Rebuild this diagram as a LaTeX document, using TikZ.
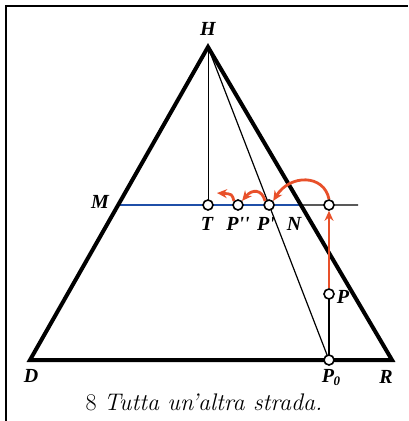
\documentclass[tikz,border=0pt]{standalone}
\usepackage{fontspec}
\newfontfamily\labfont{Liberation Serif}
\usetikzlibrary{arrows.meta,calc,intersections}
\definecolor{redarr}{HTML}{E8502A}
\definecolor{blueln}{HTML}{1F4FA8}
\tikzset{
  thickside/.style={line width=4pt, line join=miter},
  thinln/.style={line width=1.2pt},
  dotpt/.style={circle, draw, fill=white, line width=1.6pt, minimum size=10pt, inner sep=0pt},
  lab/.style={font=\labfont\bfseries\itshape\fontsize{20}{20}\selectfont, inner sep=1pt},
  redarrow/.style={draw=redarr, line width=2.8pt, -{Stealth[length=10pt,width=9pt]}},
}
\begin{document}
\begin{tikzpicture}[x=1pt,y=-1pt]
\useasboundingbox (0,0) rectangle (408,421);
% frame
\draw[line width=2.6pt] (6,421) -- (6,6) -- (408,6);
% key coordinates
\coordinate (H) at (208,47);
\coordinate (D) at (30,360);
\coordinate (R) at (392,360);
\coordinate (P0c) at (329,360);
\coordinate (Lend) at (358,205);
\coordinate (M) at ($(D)!{(360-205)/313}!(H)$);
\coordinate (N) at ($(R)!{(360-205)/313}!(H)$);
\coordinate (Pp) at ($(P0c)!{(360-205)/313}!(H)$);
\coordinate (Tc) at (208,205);
\coordinate (Ppp) at (238,205);
\coordinate (Xc) at (329,205);
\coordinate (Pc) at (329,294);
% thin lines
\draw[line width=1pt] (H) -- (Tc);
\draw[thinln] (H) -- (P0c);
\draw[thinln] (M) -- (Lend);
\draw[thinln] (Pc) -- (P0c);
\draw[blueln, line width=2.8pt] (M) -- (N);
% triangle
\draw[thickside] (D) -- (H) -- (R) -- cycle;
% points
\node[dotpt] (T) at (Tc) {};
\node[dotpt] (P2) at (Ppp) {};
\node[dotpt] (P1) at (Pp) {};
\node[dotpt] (X) at (Xc) {};
\node[dotpt] (P) at (Pc) {};
\node[dotpt] (P0) at (P0c) {};
\coordinate (E) at (217,193);
% red arrows
\draw[redarrow] (P) -- (X);
\draw[redarrow] (X.north) .. controls (324,174) and (290,174) .. (P1.north east);
\draw[redarrow] (P1.north west) .. controls (262,189) and (252,189) .. (P2.north east);
\draw[redarrow] (P2.north west) .. controls (232,194) .. (E);
% labels
\node[lab] (lH) at (208,29) {H};
\node[lab] (lM) at (100,202) {M};
\node[lab] (lT) at (207,224) {T};
\node[lab] (lP2) at (238,224) {P''};
\node[lab] (lP1) at (266,224) {P'};
\node[lab] (lN) at (294,224) {N};
\node[lab] (lP) at (343,297) {P};
\node[lab] (lP0) at (331,378) {P\kern-0.5pt\raisebox{-3pt}{\fontsize{13}{13}\selectfont 0}};
\node[lab] (lD) at (31,376) {D};
\node[lab] (lR) at (386,377) {R};
% caption
\node[font=\fontsize{24}{24}\selectfont] (cap) at (204,402) {8 \textit{Tutta un'altra strada.}};
\end{tikzpicture}
\end{document}
